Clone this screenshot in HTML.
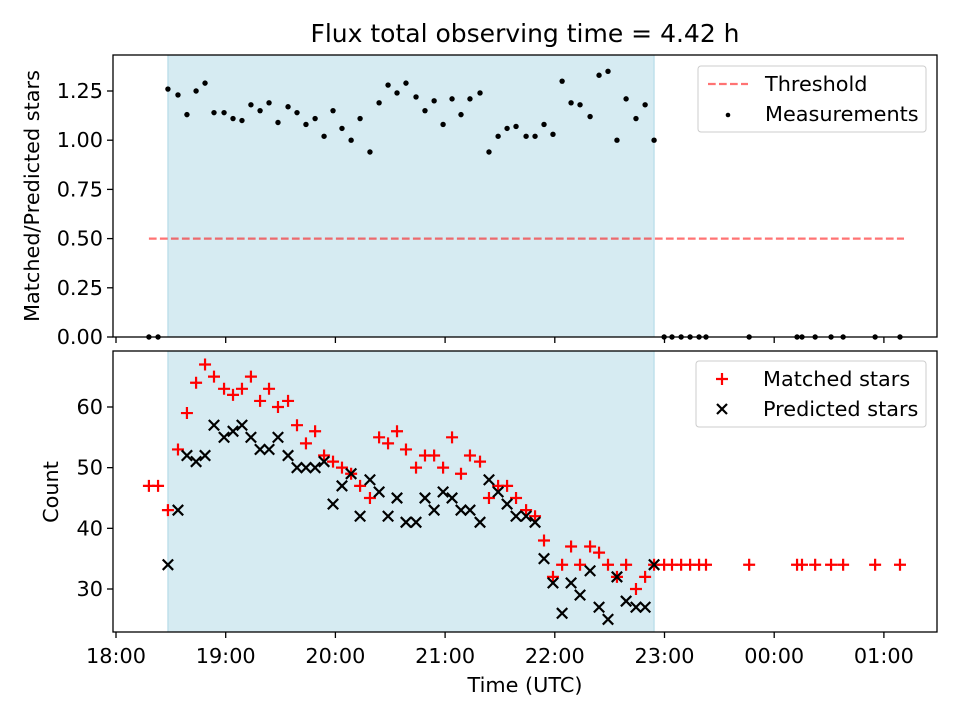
<!DOCTYPE html>
<html><head><meta charset="utf-8"><style>
body{margin:0;background:#fff;font-family:"Liberation Sans","DejaVu Sans",sans-serif}
svg text{font-family:"DejaVu Sans","Liberation Sans",sans-serif;fill:#000}
</style></head><body>
<svg id="c" width="960" height="720" viewBox="0 0 960 720"></svg>
<script>
// minutes since 18:00
const times=[18,23,28.4,33.9,38.8,43.8,48.7,53.6,59.1,64,68.9,73.8,78.8,83.7,88.6,94.1,99,103.9,108.9,113.8,118.7,123.6,128.6,133.5,138.9,143.9,148.8,153.7,158.6,164.1,169,174,178.9,183.8,188.7,193.6,199.1,204,209,213.9,218.8,224.3,229.2,234.1,239,244,248.9,253.8,259.3,264.2,269.1,274,279,284.4,289.4,294.3,299.8,304.1,309.1,314,318.9,322.7,346.3,372.5,375.2,382.4,391.1,397.7,415.2,428.8];
const ratio=[0,0,1.26,1.23,1.13,1.25,1.29,1.14,1.14,1.11,1.10,1.18,1.15,1.19,1.09,1.17,1.14,1.08,1.11,1.02,1.15,1.06,1.00,1.11,0.94,1.19,1.28,1.24,1.29,1.22,1.15,1.20,1.08,1.21,1.13,1.21,1.24,0.94,1.02,1.06,1.07,1.02,1.02,1.08,1.03,1.30,1.19,1.18,1.12,1.33,1.35,1.00,1.21,1.11,1.18,1.00,0,0,0,0,0,0,0,0,0,0,0,0,0,0];
const matched=[47,47,43,53,59,64,67,65,63,62,63,65,61,63,60,61,57,54,56,52,51,50,49,47,45,55,54,56,53,50,52,52,50,55,49,52,51,45,47,47,45,43,42,38,32,34,37,34,37,36,34,32,34,30,32,34,34,34,34,34,34,34,34,34,34,34,34,34,34,34];
const predicted=[null,null,34,43,52,51,52,57,55,56,57,55,53,53,55,52,50,50,50,51,44,47,49,42,48,46,42,45,41,41,45,43,46,45,43,43,41,48,46,44,42,42,41,35,31,26,31,29,33,27,25,32,28,27,27,34,null,null,null,null,null,null,null,null,null,null,null,null,null,null];
const xTicks=["18:00","19:00","20:00","21:00","22:00","23:00","00:00","01:00"];
const topTicks=[0,0.25,0.5,0.75,1.0,1.25];
const botTicks=[30,40,50,60];
const obsStart=28.4, obsEnd=294.3, threshold=0.5, thrStart=18, thrEnd=431;

const svg=document.getElementById('c');const NS="http://www.w3.org/2000/svg";
function el(t,a,p){const e=document.createElementNS(NS,t);for(const k in a)e.setAttribute(k,a[k]);(p||svg).appendChild(e);return e;}
const L=113,R=937;
const xs=m=>116+m*109.7/60;
const yT=v=>337-v*196.8;
const yB=v=>589-(v-30)*6.067;
function txt(x,y,s,size,anchor,rot,parent){const a={x:x,y:y,'text-anchor':anchor||'middle',style:'font-size:'+size+'px'};if(rot)a.transform=rot;const t=el('text',a,parent);t.textContent=s;return t;}
const FS=20.8;
let t=txt(525,42,"Flux total observing time = 4.42 h",25);


function panel(top,bot,name){
  const g=el('g',{});
  const sh=el('rect',{x:xs(obsStart),y:top,width:xs(obsEnd)-xs(obsStart),height:bot-top,fill:'#add8e6','fill-opacity':0.5,stroke:'#add8e6'},g);
  
  return g;
}
const gT=panel(55,337,'ratio-panel');
const th=el('line',{x1:xs(thrStart),x2:xs(thrEnd),y1:yT(threshold),y2:yT(threshold),stroke:'#ff0000','stroke-opacity':0.55,'stroke-width':2.2,'stroke-dasharray':'7.7,3.3'},gT);

times.forEach((m,i)=>{const c=el('circle',{cx:xs(m),cy:yT(ratio[i]),r:2.7,fill:'#000'},gT);
});
el('rect',{x:L,y:55,width:R-L,height:282,fill:'none',stroke:'#000','stroke-width':1.3});
topTicks.forEach(v=>{const y=yT(v);el('line',{x1:L-6,x2:L,y1:y,y2:y,stroke:'#000','stroke-width':1.3});
const tt=txt(L-10,y+7,v.toFixed(2),FS,'end');});
t=txt(39,196,"Matched/Predicted stars",FS,'middle','rotate(-90 39 196)');

const gB=panel(351,632,'count-panel');
times.forEach((m,i)=>{const x=xs(m),y=yB(matched[i]);const p=el('path',{d:`M${x-6} ${y}H${x+6}M${x} ${y-6}V${y+6}`,stroke:'#ff0000','stroke-width':2.2},gB);
});
times.forEach((m,i)=>{if(predicted[i]==null)return;const x=xs(m),y=yB(predicted[i]),s=5.2;const p=el('path',{d:`M${x-s} ${y-s}L${x+s} ${y+s}M${x-s} ${y+s}L${x+s} ${y-s}`,stroke:'#000','stroke-width':2.2},gB);
});
el('rect',{x:L,y:351,width:R-L,height:281,fill:'none',stroke:'#000','stroke-width':1.3});
botTicks.forEach(v=>{const y=yB(v);el('line',{x1:L-6,x2:L,y1:y,y2:y,stroke:'#000','stroke-width':1.3});
const tt=txt(L-10,y+7,String(v),FS,'end');});
t=txt(58,492,"Count",FS,'middle','rotate(-90 58 492)');
xTicks.forEach((s,i)=>{const x=xs(i*60);el('line',{x1:x,x2:x,y1:337,y2:343,stroke:'#000','stroke-width':1.3});el('line',{x1:x,x2:x,y1:632,y2:638,stroke:'#000','stroke-width':1.3});
const tt=txt(x,663,s,FS);});
t=txt(525,692,"Time (UTC)",FS);

let lg=el('g',{});
el('rect',{x:698,y:66,width:228,height:66,rx:3,fill:'#fff','fill-opacity':0.8,stroke:'#ccc'},lg);
el('line',{x1:708,x2:748,y1:84,y2:84,stroke:'#ff0000','stroke-opacity':0.55,'stroke-width':2.2,'stroke-dasharray':'7.7,3.3'},lg);
txt(765,91,"Threshold",FS,'start',null,lg);
el('circle',{cx:728,cy:115,r:2.3,fill:'#000'},lg);
txt(765,121,"Measurements",FS,'start',null,lg);
lg=el('g',{});
el('rect',{x:696,y:361,width:230,height:66,rx:3,fill:'#fff','fill-opacity':0.8,stroke:'#ccc'},lg);
el('path',{d:'M716 379H728M722 373V385',stroke:'#ff0000','stroke-width':2.2},lg);
txt(763,386,"Matched stars",FS,'start',null,lg);
el('path',{d:'M717 404L727 414M717 414L727 404',stroke:'#000','stroke-width':2.2},lg);
txt(763,416,"Predicted stars",FS,'start',null,lg);
</script>
</body></html>
